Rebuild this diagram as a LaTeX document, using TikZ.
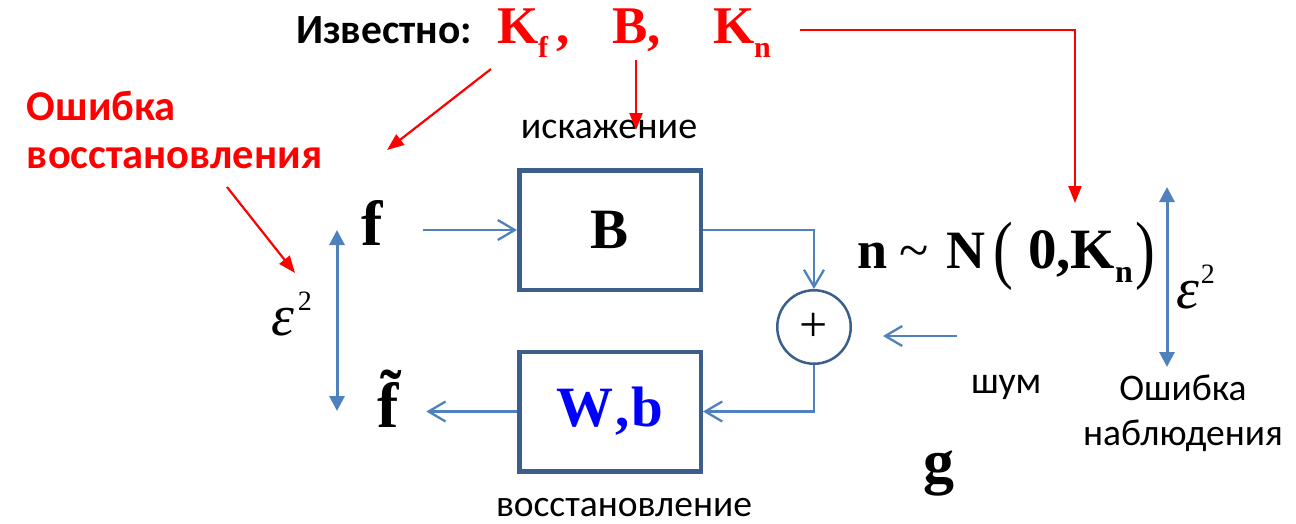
\documentclass[tikz,border=0pt]{standalone}
\usepackage{fontspec}
\setmainfont{Liberation Serif}
\newfontfamily\ui{Carlito}
\usetikzlibrary{arrows.meta}
\definecolor{flowblue}{HTML}{4F81BD}
\definecolor{boxblue}{HTML}{3B5E8C}
\definecolor{hired}{HTML}{FF0000}
\definecolor{symblue}{HTML}{0000FF}
\newcommand\fs[1]{\fontsize{#1}{#1}\selectfont}
\newcommand\lowsub[2]{\raisebox{-14pt}{\fs{#1}#2}}

\begin{document}
\begin{tikzpicture}[x=1pt,y=-1pt,
  txt/.style={inner sep=0pt, outer sep=0pt},
  flow/.style={draw=flowblue, line width=2.3pt, -{Straight Barb[length=17pt,width=20pt]}},
  measure/.style={draw=flowblue, line width=3pt, {Triangle[length=15pt,width=15pt]}-{Triangle[length=15pt,width=15pt]}},
  pointer/.style={draw=hired, line width=2.2pt, -{Triangle[length=17pt,width=13pt]}},
  block/.style={draw=boxblue, line width=4.5pt, fill=white, minimum width=181.5pt, minimum height=119.5pt, inner sep=0pt},
  adder/.style={circle, draw=boxblue, line width=2.5pt, minimum size=73.5pt, inner sep=0pt}
]
\useasboundingbox (0,0) rectangle (1296,523);

% header: known quantities
\node[txt, anchor=base west] (known) at (296,43) {\ui\bfseries\fs{41.5}Известно:};
\node[txt, anchor=base west, text=hired] (kf) at (497,43) {\bfseries\fs{53}K\lowsub{30}{f}\hspace{8pt},};
\node[txt, anchor=base west, text=hired] (bk) at (612,43) {\bfseries\fs{53}B,};
\node[txt, anchor=base west, text=hired] (kn) at (713,43) {\bfseries\fs{53}K\lowsub{30}{n}};

% reconstruction error label (base = last line)
\node[txt, anchor=base west, align=left, text=hired, font=\ui\bfseries\fontsize{42.5}{48}\selectfont] (errrec) at (27,168) {Ошибка\\восстановления};

% signals
\node[txt, anchor=base west] (f) at (361,245) {\bfseries\fs{64}f};
\node[txt, anchor=base west] (ft) at (377,427) {\bfseries\fs{64}\~{f}};
\node[txt, anchor=base west] (epsl) at (271,335) {\itshape\fs{58}ε\hspace{4pt}\raisebox{25pt}{\upshape\fs{28}2}};
\node[txt, anchor=base west] (epsr) at (1176,308) {\itshape\fs{58}ε\hspace{2pt}\raisebox{25pt}{\upshape\fs{28}2}};
\node[txt, anchor=base west] (g) at (923,482) {\bfseries\fs{62}g};

% blocks
\node[block] (Bbox) at (610,230) {\bfseries\fs{57}B};
\node[block] (Wb) at (610,411.5) {\bfseries\fs{57}\color{symblue}W\hspace{2pt},\hspace{2pt}b};
\node[adder] (sum) at (814,327) {\fs{50}+};

% noise model
\node[txt, anchor=base west] (noise) at (857,268) {\fs{54}\bfseries n\hspace{12pt}\mdseries\textasciitilde\hspace{18pt}\bfseries N\hspace{8pt}\raisebox{-6pt}{\scalebox{1.1}[1.4]{\mdseries(}}\hspace{15pt}\fs{57}0,K\lowsub{32}{n}\hspace{3pt}\raisebox{-6pt}{\scalebox{1.1}[1.4]{\fs{54}\mdseries)}}};

% captions
\node[txt, anchor=base] (distort) at (609,138) {\ui\fs{38}искажение};
\node[txt, anchor=base] (restore) at (624,516) {\ui\fs{37.5}восстановление};
\node[txt, anchor=base west] (shum) at (971,393) {\ui\fs{38}шум};
\node[txt, anchor=base, align=center, font=\ui\fontsize{37.5}{45}\selectfont] (errobs) at (1183,445) {Ошибка\\наблюдения};

% free ends of connectors
\coordinate (kfout) at (491,69);
\coordinate (kfin) at (387,150);
\coordinate (bout) at (636,60);
\coordinate (bin) at (636,130);
\coordinate (knout) at (800,30);
\coordinate (knin) at (1075,203);
\coordinate (errout) at (227,187);
\coordinate (errin) at (295,273);
\coordinate (nzout) at (957,336);
\coordinate (nzin) at (883,336);
\coordinate (lt) at (337,230);
\coordinate (lb) at (337,411);
\coordinate (rt) at (1167,187);
\coordinate (rb) at (1167,367);

% signal flow
\draw[flow, shorten <=41pt] (f.east |- Bbox.west) -- (Bbox.west);
\draw[flow] (Bbox.east) -| (sum.north);
\draw[flow] (sum.south) |- (Wb.east);
\draw[flow, shorten >=28pt] (Wb.west) -- (ft.east |- Wb.west);
\draw[flow] (nzout) -- (nzin);

% error measures
\draw[measure] (lt) -- (lb);
\draw[measure] (rt) -- (rb);

% red pointers
\draw[pointer] (kfout) -- (kfin);
\draw[pointer] (bout) -- (bin);
\draw[pointer] (knout) -| (knin);
\draw[pointer] (errout) -- (errin);
\end{tikzpicture}
\end{document}
